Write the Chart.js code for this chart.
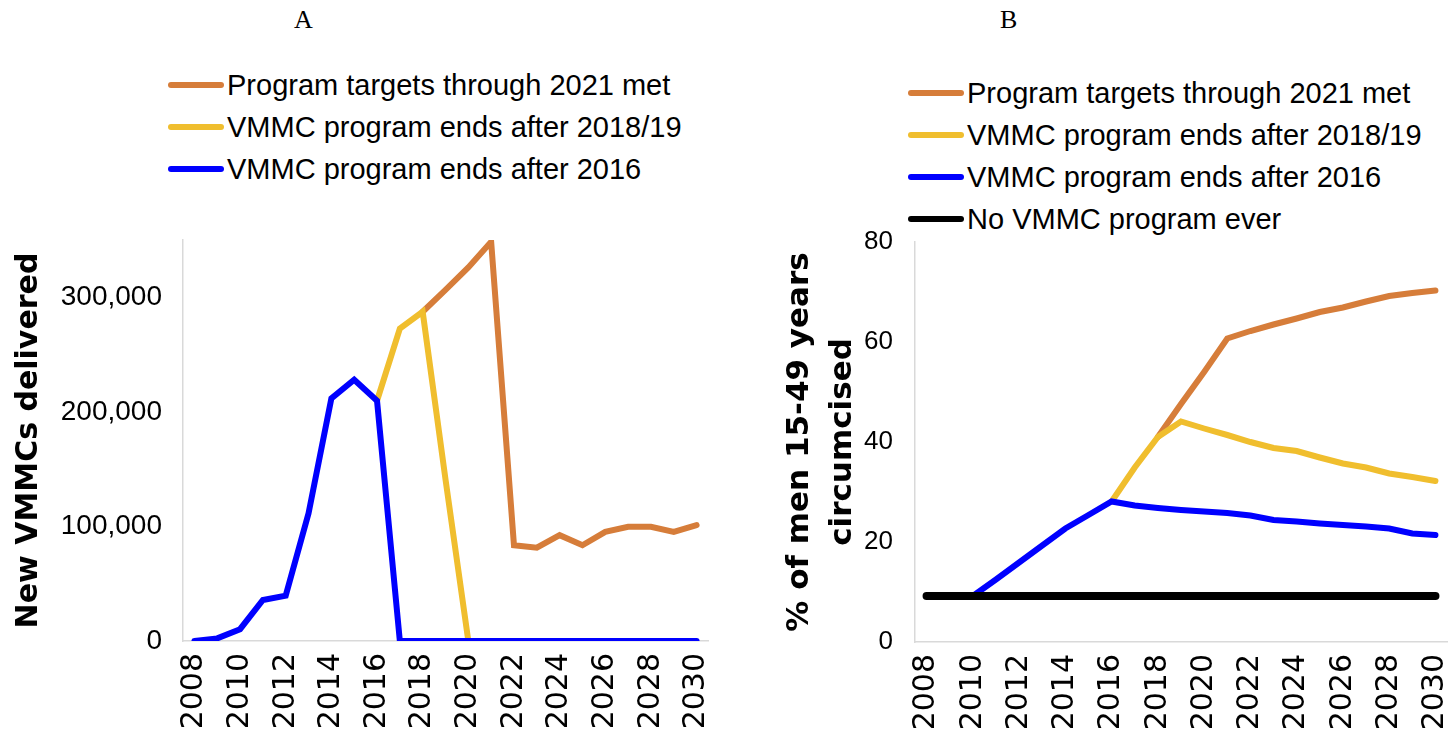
<!DOCTYPE html>
<html>
<head>
<meta charset="utf-8">
<script src="https://cdn.jsdelivr.net/npm/chart.js@4/dist/chart.umd.min.js"></script>
<style>
  html, body { margin: 0; padding: 0; background: #fff; }
  body { width: 1456px; height: 751px; position: relative; overflow: hidden; font-family: 'Liberation Sans', Arial, sans-serif; }
  .panel { position: absolute; top: 0; width: 728px; height: 751px; }
  .letter { position: absolute; font-family: 'Liberation Serif', 'Times New Roman', serif; font-size: 26px; line-height: 1; }
  .legend { position: absolute; }
  .legend .row { display: flex; align-items: center; height: 42px; }
  .legend .swatch { width: 56px; height: 6px; border-radius: 3px; margin-right: 3px; }
  .legend .txt { font-size: 29px; line-height: 1; color: #000; white-space: nowrap; }
</style>
</head>
<body>
<div class="letter" style="left:294px; top:7px;">A</div>
<div class="letter" style="left:1000px; top:7px;">B</div>
<div class="legend" id="legendA" style="left:168px; top:64px;"></div>
<div class="legend" id="legendB" style="left:908px; top:72px;"></div>
<div class="panel" style="left:0;"><canvas id="chartA"></canvas></div>
<div class="panel" style="left:728px;"><canvas id="chartB"></canvas></div>

<script>
// Years on the x axis
const years = ['2008','2009','2010','2011','2012','2013','2014','2015','2016','2017','2018','2019',
  '2020','2021','2022','2023','2024','2025','2026','2027','2028','2029','2030'];

// Series names and colours
const seriesNames = ['Program targets through 2021 met', 'VMMC program ends after 2018/19',
  'VMMC program ends after 2016', 'No VMMC program ever'];
const seriesColors = ['#D67D3A', '#F0BE2E', '#0000FF', '#000000'];

// Panel A: new VMMCs delivered per year
const targetsA = [null,null,null,null,null,null,null,null,null,null,
  287400, 306500, 326000, 348400, 83600, 81500, 92400, 83600, 95300, 99700, 99700, 95300, 101200];
const ends2019A = [null,null,null,null,null,null,null,null,
  209700, 272700, 287400, 141000, 0, null,null,null,null,null,null,null,null,null,null];
const ends2016A = [0, 2300, 10300, 35800, 39600, 111400, 211700, 228000, 209700, 0,
  0,0,0,0,0,0,0,0,0,0,0,0,0];

// Panel B: % of men 15-49 years circumcised
const targetsB = [null,null,null,null,null,null,null,null,null,null,
  41.0, 47.6, 54.0, 60.7, 62.2, 63.5, 64.7, 66.0, 66.9, 68.1, 69.2, 69.8, 70.3];
const ends2019B = [null,null,null,null,null,null,null,null,
  28.1, 34.9, 41.0, 44.1, 42.7, 41.4, 40.0, 38.8, 38.2, 36.9, 35.7, 34.9, 33.7, 33.0, 32.2];
const ends2016B = [9.2, 9.2, 9.2, 12.5, 15.9, 19.3, 22.7, 25.4, 28.1, 27.3, 26.8, 26.4,
  26.1, 25.8, 25.3, 24.4, 24.1, 23.7, 23.4, 23.1, 22.7, 21.7, 21.4];
const neverB = [9.2,9.2,9.2,9.2,9.2,9.2,9.2,9.2,9.2,9.2,9.2,9.2,9.2,9.2,9.2,9.2,9.2,9.2,9.2,9.2,9.2,9.2,9.2];

// Y ticks
const yTicksA = [0, 100000, 200000, 300000];
const yTicksB = [0, 20, 40, 60, 80];

const axisGray = '#d9d9d9';
const tickFontX = { family: "'DejaVu Sans', sans-serif", size: 30 };
const titleFont = { family: "'DejaVu Sans', sans-serif", size: 30, weight: 'bold' };

// Build the HTML legend rows
function buildLegend(el, count) {
  for (let i = 0; i < count; i++) {
    const row = document.createElement('div');
    row.className = 'row';
    row.innerHTML = `<span class="swatch" style="background:${seriesColors[i]}"></span><span class="txt">${seriesNames[i]}</span>`;
    el.appendChild(row);
  }
}
buildLegend(document.getElementById('legendA'), 3);
buildLegend(document.getElementById('legendB'), 4);

function lineSet(data, idx, width) {
  return {
    label: seriesNames[idx],
    data: data,
    borderColor: seriesColors[idx],
    backgroundColor: seriesColors[idx],
    borderWidth: width,
    borderCapStyle: 'round',
    pointRadius: 0,
    tension: 0,
    order: 3 - idx
  };
}

function xAxis(height) {
  return {
    offset: true,
    grid: { display: false, drawTicks: false },
    border: { display: true, color: axisGray, width: 1.5 },
    ticks: {
      autoSkip: false, maxRotation: 90, minRotation: 90, padding: 12,
      color: '#000', font: tickFontX,
      callback: (v, i) => (i % 2 === 0 ? years[i] : '')
    },
    afterFit: s => { s.height = height; s.paddingLeft = 0; s.paddingRight = 0; }
  };
}

Chart.defaults.animation = false;

new Chart(document.getElementById('chartA'), {
  type: 'line',
  data: {
    labels: years,
    datasets: [lineSet(targetsA, 0, 6), lineSet(ends2019A, 1, 6), lineSet(ends2016A, 2, 6)]
  },
  options: {
    responsive: true,
    maintainAspectRatio: false,
    layout: { padding: { top: 240, right: 20, left: 0, bottom: 0 } },
    plugins: { legend: { display: false }, tooltip: { enabled: false } },
    scales: {
      x: xAxis(110),
      y: {
        min: 0, max: 350000,
        grid: { display: false, drawTicks: false },
        border: { display: true, color: axisGray, width: 1.5 },
        afterBuildTicks: s => { s.ticks = yTicksA.map(v => ({ value: v })); },
        ticks: {
          padding: 21, color: '#000',
          font: { family: "'Liberation Sans', Arial, sans-serif", size: 28 },
          callback: v => v.toLocaleString('en-US')
        },
        title: {
          display: true, text: 'New VMMCs delivered', color: '#000',
          font: titleFont, padding: { top: 11, bottom: 0 }
        },
        afterFit: s => { s.width = 183; }
      }
    }
  }
});

new Chart(document.getElementById('chartB'), {
  type: 'line',
  data: {
    labels: years,
    datasets: [lineSet(targetsB, 0, 6), lineSet(ends2019B, 1, 6), lineSet(ends2016B, 2, 6), lineSet(neverB, 3, 8)]
  },
  options: {
    responsive: true,
    maintainAspectRatio: false,
    layout: { padding: { top: 242, right: 9, left: 0, bottom: 0 } },
    plugins: { legend: { display: false }, tooltip: { enabled: false } },
    scales: {
      x: xAxis(109),
      y: {
        min: 0, max: 80,
        grid: { display: false, drawTicks: false },
        border: { display: true, color: axisGray, width: 1.5 },
        afterBuildTicks: s => { s.ticks = yTicksB.map(v => ({ value: v })); },
        ticks: {
          padding: 22, color: '#000',
          font: { family: "'Liberation Sans', Arial, sans-serif", size: 26 }
        },
        title: {
          display: true, text: ['% of men 15-49 years', 'circumcised'], color: '#000',
          font: { ...titleFont, size: 31, lineHeight: '43px' }, padding: { top: 50, bottom: 0 }
        },
        afterFit: s => { s.width = 187; }
      }
    }
  }
});
</script>
</body>
</html>
